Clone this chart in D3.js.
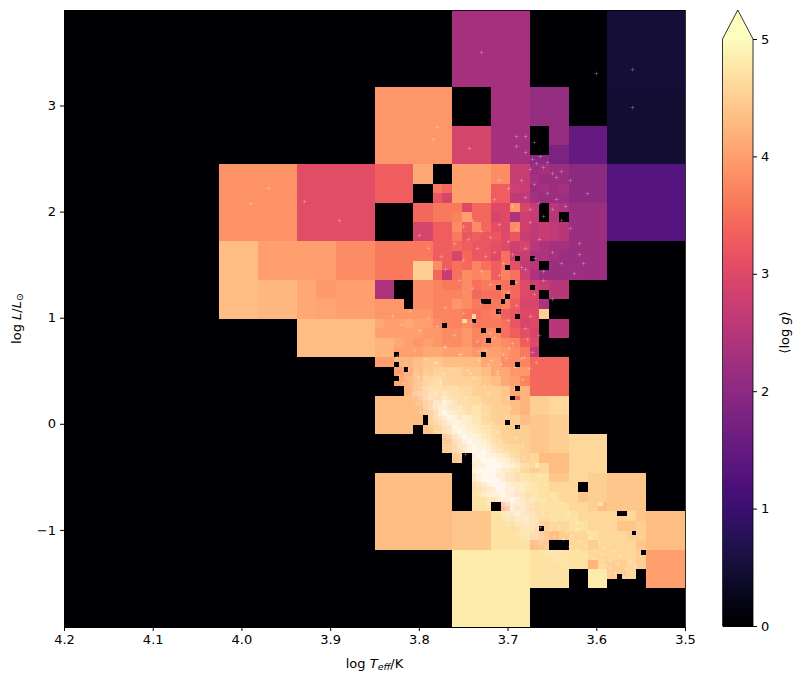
<!DOCTYPE html>
<html>
<head>
<meta charset="utf-8">
<script src="https://cdn.jsdelivr.net/npm/d3@7/dist/d3.min.js"></script>
<style>
html,body{margin:0;padding:0;background:#fff}
text{font-family:"DejaVu Sans",sans-serif;fill:#000}
</style>
</head>
<body>
<svg id="chart" width="805" height="683"></svg>
<script>
// Quadtree-binned HR diagram: mean log g per adaptive cell, with stars on top.
const logTRange = [4.2, 3.5];
const logLRange = [3.9, -1.915];
const logTTicks = [4.2, 4.1, 4.0, 3.9, 3.8, 3.7, 3.6, 3.5];
const logLTicks = [3, 2, 1, 0, -1];
const colorTicks = [0, 1, 2, 3, 4, 5];

// Large tree nodes: [level, column, row, mean log g]
const coarseCells = [
  [3,2,2,3.85],[3,3,2,3.05],[3,5,0,2.3],[3,7,0,0.52],[3,7,1,0.47],[3,7,2,1.3],
  [4,4,6,4.3],[4,4,7,4.3],[4,5,6,4.0],[4,5,7,4.25],[4,6,6,4.0],[4,7,6,3.8],[4,7,7,4.0],
  [4,6,8,4.3],[4,7,8,4.3],[4,6,7,4.1],
  [5,13,14,3.95],[5,12,15,4.1],[5,13,15,4.05]
];

// Level-6 nodes from column 32, row 8 down. A-e run 2.0 to 5.0, digits 1.0 to 1.9,
// '#' is an empty node and a missing character leaves the parent showing.
const fineStartCol = 32;
const fineStartRow = 8;
const fineCells = [
  "TTTTTTTT####DDDDBBBB####",
  "TTTTTTTT####DDDDBBBB####",
  "TTTTTTTT####DDDDBBBB####",
  "TTTTTTTT####DDDDBBBB####",
  "TTTTTTTTJJJJDDDD##BB5555",
  "TTTTTTTTJJJJDDDD##BB5555",
  "TTTTTTTTJJJJDDDD##885555",
  "TTTTTTTTJJJJDDDDAA885555",
  "NNNNVV##UUUUSSHHCDCCAAAA",
  "NNNNVV##UUUUSSHHDCCCAAAA",
  "NNNN##QOUUUUNNIHCDCDAAAA",
  "NNNN##MJUUUUNNGGDCCCAAAA",
  "####OOQQQKOOKKTJH#FECCCC",
  "####OOQQRUOOJKEIH#F#CCCC",
  "####JJNNSNSOLKSIGHGFCCCC",
  "####JJNNQMNMMKMHGHGFCCCC",
  "QQQQQQNNONMMLKIJFEDDCCCC",
  "QQQQQQNNJOMMKPIHEEDCCCCC",
  "QQQQZZSNPORPNPLGF#CCCCCC",
  "QQQQZZOHPSRSNRPIECCCCCCC",
  "EE##SSRQQSPQQPOKIHFF####",
  "EE##SSRRRSOPPROKJ#FF####",
  "TTT#SSRRTSQPQRNJJE######",
  "TTTTTTRRRQPQRNMKKZ######",
  "VUUVUUSRRSQQQPMJK#FF####",
  "UUUUUTTSSTRSSPNLJ#FF####",
  "WWVUTUTSSTRSTSRNK#######",
  "WWUUUVVUUUTUUTSQH#######",
  "UUWWXYYXXXXVVSSROOOO####",
  "##UVXYZZZYYXVVTTOOOO####",
  "##VWXZaZZZZYXVUROOOO####",
  "###WXZaaaaZZZYVWOOOO####",
  "XXXXXYZaaaaZZYXWZZaa####",
  "XXXXXYZZaabaZZXWZZaa####",
  "XXXXXYZZabbaZZZXYYZZ####",
  "XXXX#YZZaabbaZZZYYZZ####",
  "#######XZabbaZZZYYZZaaaa",
  "#######ZZabbaaaZYYZZaaaa",
  "########Y#aabbaZaXXXaaaa",
  "##########aaabbaZaXXaaaa",
  "XXXXXXXX##aaZZabbbYYaaZZYYYY####",
  "XXXXXXXX##aaZZabbbaaa#ZZYYYY####",
  "XXXXXXXX##bbaaZabbbaaYZZYYYY####",
  "XXXXXXXX##bb#UZaabbbaaZXYYYY####",
  "XXXXXXXXYYYYbbaaaabbbaaaaZaYXXXX",
  "XXXXXXXXYYYYbbaaaZaabbaaaYYZXXXX",
  "XXXXXXXXYYYYbbbbZYXZaabaaaZZXXXX",
  "XXXXXXXXYYYYbbbbXX##aaZaaaaYXXXX",
  "########ccccccccbbbbbbaaaaaZUUUU",
  "########ccccccccbbbbbbWaZZaZUUUU",
  "########ccccccccbbbb##ccZZa#UUUU",
  "########ccccccccbbbb##cc####UUUU",
  "########cccccccc",
  "########cccccccc",
  "########cccccccc",
  "########cccccccc"
];
const logGAlphabet = "0123456789ABCDEFGHIJKLMNOPQRSTUVWXYZabcde";

// Empty level-7 nodes inside the populated region: [column, row]
const emptySmallCells = [
  [93,51],[96,51],[91,53],[92,56],[89,57],[96,57],[91,59],[90,60],[86,60],[87,60],
  [89,62],[93,63],[84,64],[78,65],[86,66],[89,66],[87,68],[68,71],[86,71],[68,73],
  [93,73],[70,74],[68,76],[93,78],[92,80],[74,84],[74,85],[91,85],[93,86],
  [114,104],[115,104],[98,107],[117,108],[119,112],[114,117]
];
// Level-7 nodes with their own mean: [column, row, mean log g]
const smallCells = [[93,80,3.4],[97,94,4.8],[84,63,4.6],[82,64,4.6],[110,102,4.7]];

// Star crowding on the level-7 grid from column 64, row 70 down (0 to 9).
const coverStartCol = 64;
const coverStartRow = 70;
const starCover = [
  "00010101010101010101000100100100",
  "00101110111101101011010010010100",
  "00112121212112112110111101010100",
  "00112232322221212121101101001010",
  "0000122332332323122211101101001",
  "0000123343434332322121201101001",
  "0000012344543443332222111201010010",
  "0000001345454544323322121100101000",
  "0000002345565544433232211101010100",
  "0000001356566565443322221110100100",
  "0000000235676676544333221211010010",
  "0000000124567787655433322110101000",
  "0000000023567887665443322111010100",
  "0000000012456898766544322211001000",
  "0000000001356789877654332211100100",
  "0000000000245678887655433221101000",
  "0000000000134567988765443321110100",
  "0000000000023567898876544322110010",
  "0000000000012456789887654332211000",
  "0000000000001345678988765443221100",
  "0000000000000234577898876543322110",
  "00000000000001235678989876543221100",
  "00000000000000124567899887654322110",
  "000000000000000024568899988765432110",
  "000000000000000013467889998876543211",
  "00000000000000023567899998765432110",
  "00000000000000012456789998876543210",
  "000000000000000013467899998765432100",
  "0000000000000000012356789998776543210",
  "00000000000000000012456789988765432100",
  "000000000000000000013467889887654321000",
  "0000000000000000000012356788987654321000",
  "00000000000000000000012456788876543210000",
  "000000000000000000000013456787765432100000",
  "00000000000000000000000123567876654321000000",
  "000000000000000000000000124567776543210000000",
  "0000000000000000000000000123566765432100000000",
  "00000000000000000000000000124566654321000000000",
  "000000000000000000000000000123556543210000000000",
  "00000000000000000000000000001234565432100000000000",
  "000000000000000000000000000000123454543210000000000",
  "0000000000000000000000000000000123454432100000000000",
  "00000000000000000000000000000000123443321000000000000",
  "000000000000000000000000000000000012343321000000000000",
  "00000000000000000000000000000000000123332100000000000000",
  "000000000000000000000000000000000000122321000000000000",
  "0000000000000000000000000000000000000012221000000000",
  "00000000000000000000000000000000000000011110000000"
];

// Individually resolved stars away from the main sequence
const starLogT = [3.78,3.784,3.744,3.69,3.68,3.672,3.668,3.664,3.66,3.675,3.655,3.65,3.645,3.64,3.63,3.61,
  3.71,3.715,3.70,3.695,3.685,3.68,3.675,3.67,3.665,3.66,3.655,3.65,3.645,3.64,3.635,3.63,3.62,
  3.75,3.745,3.74,3.735,3.73,3.725,3.72,3.715,3.71,3.705,3.70,3.695,3.69,3.685,3.68,3.675,3.67,3.665,3.66,3.65,3.64,
  3.80,3.79,3.775,3.77,3.76,3.755,3.75,3.74,3.73,3.72,3.71,3.70,3.69,3.68,3.67,3.66,3.65,
  3.83,3.82,3.81,3.80,3.79,3.78,3.77,3.76,3.75,3.74,3.73,3.72,3.71,3.70,3.69,3.68,3.675,3.665,
  3.735,3.725,3.715,3.705,3.695,3.685,3.678,3.672,3.668,3.692,3.702,3.712,3.722,3.732,3.742,3.752,3.762,3.772,3.782,
  3.73,3.60,3.56,3.56,3.97,3.99,3.93,3.89,3.62,3.625,3.615,3.69,3.68,3.67];
const starLogL = [2.80,2.68,2.60,2.71,2.71,2.50,2.46,2.52,2.42,2.40,2.47,2.36,2.33,2.38,2.30,2.18,
  2.30,2.12,2.22,2.05,2.30,2.14,2.02,2.26,2.08,1.96,2.18,2.02,2.12,1.92,2.05,1.85,1.70,
  1.86,1.74,1.92,1.66,1.82,1.58,1.76,1.62,1.88,1.52,1.72,1.60,1.84,1.48,1.66,1.90,1.56,1.74,1.44,1.62,1.52,
  1.78,1.66,1.58,1.46,1.70,1.36,1.54,1.28,1.44,1.32,1.40,1.24,1.34,1.46,1.22,1.36,1.18,
  1.02,0.94,1.06,0.88,1.00,0.92,1.10,0.84,1.04,0.96,1.14,0.86,1.06,0.98,1.12,0.90,1.02,0.84,
  0.78,0.70,0.82,0.66,0.76,0.62,0.80,0.68,0.58,0.54,0.62,0.50,0.56,0.60,0.48,0.66,0.52,0.72,0.58,
  3.50,3.31,3.34,2.99,2.22,2.08,2.10,1.92,1.60,1.42,1.52,2.62,2.56,2.66];

// Stars along the main sequence: [log Teff, log L]
const mainSequenceStars = [
  [3.806,0.70],[3.771,0.73],[3.733,0.69],[3.698,0.71],
  [3.825,0.64],[3.792,0.61],[3.755,0.66],[3.719,0.60],[3.681,0.63],
  [3.812,0.52],[3.781,0.57],[3.746,0.51],[3.707,0.56],[3.676,0.53],
  [3.822,0.46],[3.801,0.44],[3.773,0.48],[3.739,0.43],[3.712,0.47],[3.684,0.42],
  [3.818,0.38],[3.797,0.35],[3.776,0.39],[3.758,0.34],[3.727,0.37],[3.693,0.33],
  [3.808,0.29],[3.789,0.26],[3.771,0.30],[3.748,0.25],[3.722,0.28],[3.701,0.24],
  [3.803,0.20],[3.784,0.17],[3.766,0.21],[3.752,0.16],[3.731,0.19],[3.697,0.15],
  [3.799,0.11],[3.777,0.08],[3.762,0.12],[3.744,0.07],[3.724,0.10],[3.702,0.06],
  [3.787,0.02],[3.771,-0.01],[3.757,0.03],[3.741,-0.02],[3.719,0.01],[3.688,-0.03],
  [3.782,-0.07],[3.764,-0.10],[3.751,-0.06],[3.733,-0.11],[3.712,-0.08],[3.691,-0.12],
  [3.772,-0.16],[3.756,-0.19],[3.742,-0.15],[3.727,-0.20],[3.708,-0.17],[3.684,-0.21],
  [3.761,-0.25],[3.748,-0.28],[3.735,-0.24],[3.721,-0.29],[3.702,-0.26],[3.682,-0.30],
  [3.739,-0.37],[3.728,-0.33],[3.712,-0.38],[3.694,-0.35],[3.672,-0.39],
  [3.738,-0.40],[3.731,-0.46],[3.719,-0.42],[3.705,-0.47],[3.688,-0.44],[3.665,-0.48],
  [3.735,-0.52],[3.722,-0.55],[3.711,-0.51],[3.697,-0.56],[3.679,-0.53],[3.658,-0.57],
  [3.722,-0.61],[3.711,-0.64],[3.701,-0.60],[3.687,-0.65],[3.668,-0.62],[3.651,-0.66],
  [3.708,-0.70],[3.697,-0.73],[3.688,-0.69],[3.674,-0.74],[3.659,-0.71],[3.641,-0.75],
  [3.696,-0.79],[3.684,-0.82],[3.672,-0.78],[3.661,-0.83],[3.648,-0.80],[3.632,-0.84],
  [3.679,-0.88],[3.668,-0.91],[3.657,-0.87],[3.646,-0.92],[3.634,-0.89],[3.622,-0.93],
  [3.663,-0.97],[3.652,-1.00],[3.643,-0.96],[3.633,-1.01],[3.622,-0.98],[3.611,-1.02],
  [3.648,-1.06],[3.638,-1.09],[3.629,-1.05],[3.619,-1.10],[3.608,-1.07],[3.597,-1.11],
  [3.631,-1.15],[3.622,-1.18],[3.613,-1.14],[3.603,-1.19],[3.592,-1.16],[3.581,-1.20],
  [3.612,-1.24],[3.603,-1.27],[3.594,-1.23],[3.584,-1.28],[3.573,-1.25],[3.562,-1.29],
  [3.594,-1.33],[3.585,-1.36],[3.576,-1.32],[3.566,-1.37],[3.556,-1.34],
  [3.579,-1.41],[3.569,-1.44],[3.561,-1.40]
];

const xScale = d3.scaleLinear().domain(logTRange).range([64, 685]);
const yScale = d3.scaleLinear().domain(logLRange).range([10, 627]);
const colorScale = d3.scaleSequential(d3.interpolateMagma).domain([0, 5]);
const barScale = d3.scaleLinear().domain([0, 5]).range([626, 39]);

const svg = d3.select("#chart");
const edgeT = (level, col) => logTRange[0] + (logTRange[1] - logTRange[0]) * col / 2 ** level;
const edgeL = (level, row) => logLRange[0] + (logLRange[1] - logLRange[0]) * row / 2 ** level;

// Flatten every tree level into one list, parents first so children paint over them.
const nodes = coarseCells.map(([level, col, row, logg]) => ({level, col, row, logg}));
fineCells.forEach((line, r) => {
  Array.from(line).forEach((ch, c) => {
    nodes.push({level: 6, col: fineStartCol + c, row: fineStartRow + r,
      logg: ch === "#" ? 0 : 1 + logGAlphabet.indexOf(ch) / 10});
  });
});
emptySmallCells.forEach(([col, row]) => nodes.push({level: 7, col, row, logg: 0}));
smallCells.forEach(([col, row, logg]) => nodes.push({level: 7, col, row, logg}));

const plot = svg.append("g");
plot.append("rect")
  .attr("x", xScale(logTRange[0])).attr("y", yScale(logLRange[0]))
  .attr("width", xScale(logTRange[1]) - xScale(logTRange[0]))
  .attr("height", yScale(logLRange[1]) - yScale(logLRange[0]))
  .attr("fill", colorScale(0));

const cellRect = sel => sel
  .attr("x", d => xScale(edgeT(d.level, d.col)))
  .attr("y", d => yScale(edgeL(d.level, d.row)))
  .attr("width", d => xScale(edgeT(d.level, d.col + 1)) - xScale(edgeT(d.level, d.col)))
  .attr("height", d => yScale(edgeL(d.level, d.row + 1)) - yScale(edgeL(d.level, d.row)));

plot.append("g").attr("shape-rendering", "crispEdges")
  .selectAll("rect").data(nodes).join("rect")
  .call(cellRect)
  .attr("fill", d => colorScale(d.logg));

// Dense stars merge into a pale wash over the main sequence; empty nodes stay empty.
const emptySmallSet = new Set(emptySmallCells.map(String));
const hasStars = (col, row) => {
  if (emptySmallSet.has(String([col, row]))) return false;
  const line = fineCells[(row >> 1) - fineStartRow];
  const ch = line && line[(col >> 1) - fineStartCol];
  return !!ch && ch !== "#";
};
const cover = [];
starCover.forEach((line, r) => {
  Array.from(line).forEach((ch, c) => {
    const col = coverStartCol + c, row = coverStartRow + r;
    if (ch !== "0" && hasStars(col, row)) cover.push({level: 7, col, row, n: +ch});
  });
});
plot.append("g").attr("shape-rendering", "crispEdges")
  .selectAll("rect").data(cover).join("rect")
  .call(cellRect)
  .attr("fill", "#fff")
  .attr("fill-opacity", d => 0.82 * Math.pow(d.n / 9, 2.2));

const allStars = starLogT.map((t, i) => [t, starLogL[i]]).concat(mainSequenceStars);
plot.append("g")
  .selectAll("path").data(allStars).join("path")
  .attr("transform", d => `translate(${Math.round(xScale(d[0])) + 0.5},${Math.round(yScale(d[1])) + 0.5})`)
  .attr("d", "M-2,0H2M0,-2V2")
  .attr("stroke", "#fff")
  .attr("stroke-opacity", 0.22)
  .attr("fill", "none");

// Axes
const xAxis = svg.append("g").attr("transform", "translate(0,627)")
  .call(d3.axisBottom(xScale).tickValues(logTTicks).tickFormat(d3.format(".1f")).tickSize(4).tickPadding(4).tickSizeOuter(0));
const yAxis = svg.append("g").attr("transform", "translate(64,0)")
  .call(d3.axisLeft(yScale).tickValues(logLTicks).tickFormat(d => d < 0 ? "\u2212" + Math.abs(d) : d).tickSize(4).tickPadding(4).tickSizeOuter(0));
[xAxis, yAxis].forEach(a => {
  a.selectAll("text").attr("font-family", "DejaVu Sans").attr("font-size", 13);
  a.select(".domain").attr("stroke", "#000");
});
svg.append("rect").attr("x", 64.5).attr("y", 10.5).attr("width", 621).attr("height", 617)
  .attr("fill", "none").attr("stroke", "#000").attr("stroke-width", 0.8);

const xLabel = svg.append("text").attr("x", 374.5).attr("y", 668).attr("text-anchor", "middle").attr("font-size", 13);
xLabel.append("tspan").text("log ");
xLabel.append("tspan").attr("font-style", "italic").text("T");
xLabel.append("tspan").attr("font-style", "italic").attr("font-size", 9.5).attr("dy", 2).text("eff");
xLabel.append("tspan").attr("dy", -2).text("/K");

const yLabel = svg.append("text").attr("transform", "translate(21,318.5) rotate(-90)").attr("text-anchor", "middle").attr("font-size", 13);
yLabel.append("tspan").text("log ");
yLabel.append("tspan").attr("font-style", "italic").text("L");
yLabel.append("tspan").text("/");
yLabel.append("tspan").attr("font-style", "italic").text("L");
yLabel.append("tspan").attr("font-size", 9.5).attr("dy", 2).text("\u2299");

// Colour bar with its upper extension
const barSteps = d3.range(0, 256).map(i => i / 255 * 5);
const barStep = (barScale(0) - barScale(5)) / 255;
const bar = svg.append("g");
bar.append("g").attr("shape-rendering", "crispEdges")
  .selectAll("rect").data(barSteps).join("rect")
  .attr("x", 722.5).attr("width", 30.5)
  .attr("y", d => barScale(d) - barStep)
  .attr("height", barStep + 0.6)
  .attr("fill", d => colorScale(d));
bar.append("path")
  .attr("d", d3.line()([[722.5, barScale(5)], [737.75, 10], [753, barScale(5)]]) + "Z")
  .attr("fill", colorScale(5));
bar.append("path")
  .attr("d", d3.line()([[722.5, barScale(0)], [722.5, barScale(5)], [737.75, 10], [753, barScale(5)], [753, barScale(0)]]) + "Z")
  .attr("fill", "none").attr("stroke", "#000").attr("stroke-width", 0.8);
const barAxis = svg.append("g").attr("transform", "translate(753,0)")
  .call(d3.axisRight(barScale).tickValues(colorTicks).tickFormat(d3.format("d")).tickSize(4).tickPadding(4).tickSizeOuter(0));
barAxis.select(".domain").remove();
barAxis.selectAll("text").attr("font-family", "DejaVu Sans").attr("font-size", 13);

const barLabel = svg.append("text").attr("transform", "translate(789,332.5) rotate(-90)").attr("text-anchor", "middle").attr("font-size", 13);
barLabel.append("tspan").text("\u27E8log ");
barLabel.append("tspan").attr("font-style", "italic").text("g");
barLabel.append("tspan").text("\u27E9");
</script>
</body>
</html>
